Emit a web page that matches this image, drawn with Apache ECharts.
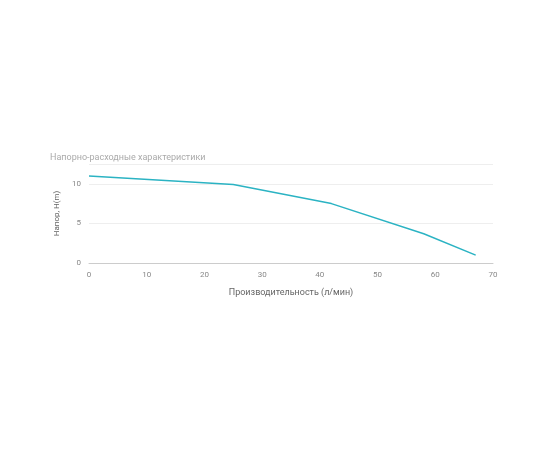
<!DOCTYPE html>
<html>
<head>
<meta charset="utf-8">
<script src="https://cdn.jsdelivr.net/npm/echarts@6/dist/echarts.min.js"></script>
<style>html,body{margin:0;background:#fff}#chart{width:550px;height:450px}</style>
</head>
<body>
<div id="chart"></div>
<script>
const flow = [0, 25, 42, 58, 67];
const head = [11, 9.9, 7.5, 3.7, 1.0];
const xTicks = [0, 10, 20, 30, 40, 50, 60, 70];

const chart = echarts.init(document.getElementById('chart'));
chart.setOption({
    textStyle: { fontFamily: 'Roboto' },
    title: {
        text: 'Напорно-расходные характеристики',
        left: 45, top: 148,
        textStyle: { fontSize: 9, color: '#aaa', fontWeight: 'normal' }
    },
    grid: { left: 89, right: 57, top: 164, bottom: 187 },
    xAxis: {
        type: 'value', min: 0, max: xTicks[xTicks.length - 1], interval: 10,
        name: 'Производительность (л/мин)', nameLocation: 'middle', nameGap: 25,
        nameTextStyle: { fontSize: 9, color: '#666' },
        axisLine: { lineStyle: { color: '#ccc' } },
        axisTick: { show: false },
        axisLabel: { fontSize: 8, color: '#888' },
        splitLine: { show: false }
    },
    yAxis: {
        type: 'value', min: 0, max: 12.5, interval: 5,
        name: 'Напор, H(m)', nameLocation: 'middle', nameGap: 22,
        nameTextStyle: { fontSize: 8, color: '#666' },
        axisLine: { show: false }, axisTick: { show: false },
        axisLabel: { fontSize: 8, color: '#888', formatter: v => (v % 5 === 0 ? v : '') },
        splitLine: { lineStyle: { color: '#eee' } }
    },
    series: [{
        type: 'line',
        data: flow.map((x, i) => [x, head[i]]),
        symbol: 'none',
        lineStyle: { color: '#2bb3c3', width: 1.5 },
        markLine: {
            silent: true, symbol: 'none', label: { show: false },
            lineStyle: { color: '#eee', type: 'solid', width: 1 },
            data: [{ yAxis: 12.5 }]
        }
    }]
});
</script>
</body>
</html>
